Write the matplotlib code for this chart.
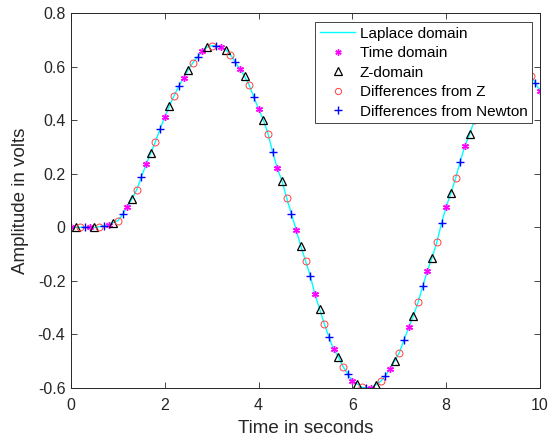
import matplotlib
matplotlib.use("Agg")
import matplotlib.pyplot as plt
import numpy as np

plt.rcParams['font.family'] = ['Liberation Sans', 'DejaVu Sans']
plt.rcParams['axes.unicode_minus'] = False

laplace_t = [round(0.1 * i, 1) for i in range(101)]
laplace_y = [
    0.000, 0.000, 0.000, 0.000, 0.000, 0.000, 0.002, 0.005, 0.010, 0.017,
    0.025, 0.048, 0.077, 0.106, 0.140, 0.187, 0.235, 0.276, 0.320, 0.367,
    0.412, 0.454, 0.492, 0.527, 0.558, 0.588, 0.615, 0.636, 0.657, 0.672,
    0.678, 0.677, 0.672, 0.663, 0.645, 0.617, 0.590, 0.565, 0.530, 0.485,
    0.442, 0.401, 0.350, 0.280, 0.220, 0.172, 0.108, 0.050, -0.010, -0.070,
    -0.125, -0.180, -0.250, -0.305, -0.360, -0.410, -0.456, -0.483, -0.520, -0.548,
    -0.573, -0.585, -0.597, -0.600, -0.600, -0.588, -0.575, -0.555, -0.529, -0.500,
    -0.468, -0.421, -0.374, -0.330, -0.280, -0.220, -0.162, -0.113, -0.056, 0.015,
    0.077, 0.127, 0.183, 0.245, 0.305, 0.347, 0.400, 0.450, 0.492, 0.527,
    0.555, 0.577, 0.592, 0.601, 0.605, 0.604, 0.597, 0.585, 0.565, 0.539,
    0.509,
]

# Marker series (each sampled every 0.4 s, offset by 0.1 s)
time_t = laplace_t[0::4]
time_y = laplace_y[0::4]
z_t = laplace_t[1::4]
z_y = laplace_y[1::4]
dz_t = laplace_t[2::4]
dz_y = laplace_y[2::4]
dn_t = laplace_t[3::4]
dn_y = laplace_y[3::4]

xticks = [0, 2, 4, 6, 8, 10]
yticks = [-0.6, -0.4, -0.2, 0, 0.2, 0.4, 0.6, 0.8]
ytick_labels = ['-0.6', '-0.4', '-0.2', '0', '0.2', '0.4', '0.6', '0.8']

W, H = 548, 441
fig = plt.figure(figsize=(W / 100, H / 100), dpi=100)
ax = fig.add_axes([71 / W, 1 - 388 / H, (540 - 71) / W, (388 - 13) / H])

dark = '#262626'
ax.plot(laplace_t, laplace_y, color='#00ffff', lw=1.0, label='Laplace domain')
ax.plot(time_t, time_y, ls='none', marker=(6, 2, 0), color='#ff00ff', ms=5, mew=1.0,
        label='Time domain')
ax.plot(z_t, z_y, ls='none', marker='^', mfc='none', mec='black', ms=6, mew=0.9,
        label='Z-domain')
ax.plot(dz_t, dz_y, ls='none', marker='o', mfc='none', mec='#ff4040', ms=5, mew=0.7,
        label='Differences from Z')
ax.plot(dn_t, dn_y, ls='none', marker='+', color='#0000ff', ms=6, mew=1.0,
        label='Differences from Newton')

ax.set_xlim(0, 10)
ax.set_ylim(-0.6, 0.8)
ax.set_xticks(xticks)
ax.set_xticklabels([str(v) for v in xticks])
ax.set_yticks(yticks)
ax.set_yticklabels(ytick_labels)
ax.tick_params(direction='in', top=True, right=True, length=4, width=0.6,
               colors=dark, labelsize=11.5)
ax.tick_params(axis='x', pad=7)
ax.tick_params(axis='y', pad=4)
for s in ax.spines.values():
    s.set_color(dark)
    s.set_linewidth(0.7)

ax.set_xlabel('Time in seconds', fontsize=13.5, color=dark, labelpad=5)
ax.set_ylabel('Amplitude in volts', fontsize=13.5, color=dark, labelpad=6)

leg = ax.legend(loc='upper right', bbox_to_anchor=(0.983, 0.976), borderaxespad=0,
                fontsize=11, fancybox=False, framealpha=1, edgecolor=dark,
                handlelength=2.3, handletextpad=0.3, labelspacing=0.36,
                borderpad=0.3, markerscale=0.9)
leg.get_frame().set_linewidth(0.6)

fig.savefig('out.png', dpi=100)
